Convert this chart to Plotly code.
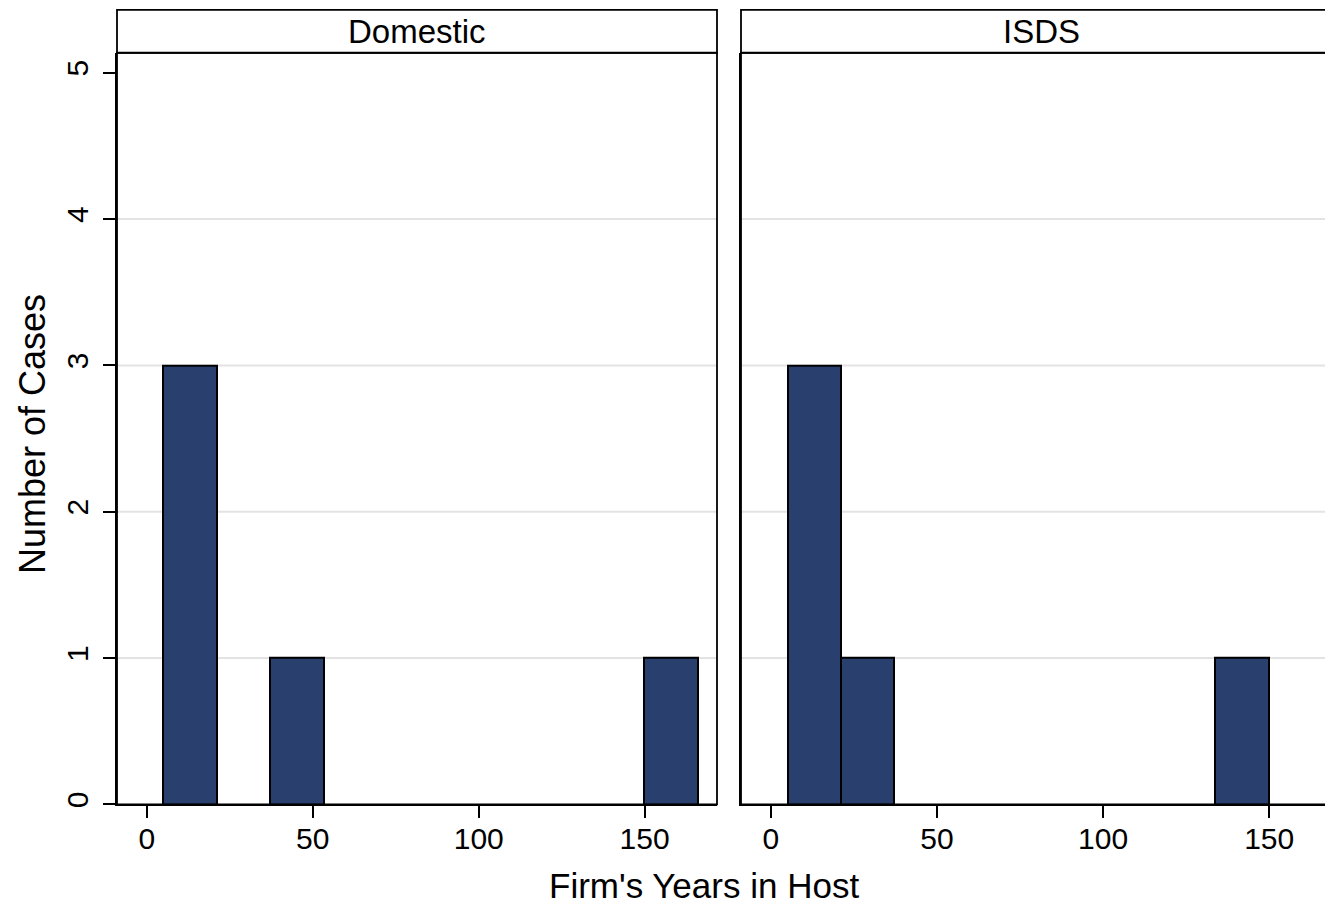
import plotly.graph_objects as go

# Histogram of firm tenure by dispute venue (shared bins of width 16.1 starting at 5)
panels = ["Domestic", "ISDS"]
bin_start = 5.0
bin_width = 16.1
domestic_bins = [0, 2, 9]
domestic_counts = [3, 1, 1]
isds_bins = [0, 1, 8]
isds_counts = [3, 1, 1]

x_ticks = [0, 50, 100, 150]
y_ticks = [0, 1, 2, 3, 4, 5]
grid_levels = [1, 2, 3, 4]

BAR_COLOR = "#293f6d"
FONT = "Liberation Sans, Arial, Helvetica, sans-serif"

W, H = 1325, 911


def px_x(p):
    return p / W


def px_y(p):
    return (H - p) / H


# panel frames in pixels: (left, right)
frames = [(117, 717), (741, 1341)]
plot_top, plot_bottom, strip_top = 53, 808, 10

fig = go.Figure()

series = [(domestic_bins, domestic_counts, "x", "y"),
          (isds_bins, isds_counts, "x2", "y2")]
for bins, counts, xa, ya in series:
    centers = [bin_start + (b + 0.5) * bin_width for b in bins]
    fig.add_trace(go.Bar(
        x=centers, y=counts, width=[bin_width] * len(bins),
        xaxis=xa, yaxis=ya,
        marker=dict(color=BAR_COLOR, line=dict(color="black", width=2)),
        showlegend=False, hoverinfo="skip",
    ))

y_dom = [px_y(plot_bottom), px_y(plot_top)]
axis_common = dict(
    showgrid=False, zeroline=False, showline=True, linecolor="black", linewidth=1.8,
    ticks="outside", ticklen=12, tickwidth=1.5, tickcolor="black",
    tickfont=dict(family=FONT, size=30, color="black"),
)

fig.update_layout(
    width=W, height=H, autosize=False,
    margin=dict(l=0, r=0, t=0, b=0),
    paper_bgcolor="white", plot_bgcolor="white",
    bargap=0,
    xaxis=dict(domain=[px_x(frames[0][0]), px_x(frames[0][1])], range=[-9.0, 171.8],
               tickvals=x_ticks, anchor="y", ticklabelstandoff=-5, **axis_common),
    xaxis2=dict(domain=[px_x(frames[1][0]), 1.0], range=[-9.0, 166.8],
                tickvals=x_ticks, anchor="y2", ticklabelstandoff=-5, **axis_common),
    yaxis=dict(domain=y_dom, range=[0, 5.136], tickvals=y_ticks,
               tickangle=-90, anchor="x", ticklabelstandoff=3, **axis_common),
    yaxis2=dict(domain=y_dom, range=[0, 5.136], tickvals=y_ticks, showticklabels=False,
                anchor="x2", **{**axis_common, "ticks": ""}),
)

shapes = []
# horizontal grid lines
for xr, yr in [("x domain", "y"), ("x2 domain", "y2")]:
    for g in grid_levels:
        shapes.append(dict(type="line", xref=xr, yref=yr, x0=0, x1=1, y0=g, y1=g,
                           line=dict(color="#e3e3e3", width=2), layer="below"))

# panel and strip borders
for left, right in frames:
    x0, x1 = px_x(left), px_x(right)
    shapes.append(dict(type="rect", xref="paper", yref="paper",
                       x0=x0, x1=x1, y0=px_y(plot_bottom), y1=px_y(plot_top),
                       line=dict(color="black", width=1.8), layer="above"))
    shapes.append(dict(type="rect", xref="paper", yref="paper",
                       x0=x0, x1=x1, y0=px_y(plot_top), y1=px_y(strip_top),
                       line=dict(color="black", width=1.8), fillcolor="white", layer="above"))
fig.update_layout(shapes=shapes)

annotations = []
for (left, right), name in zip(frames, panels):
    annotations.append(dict(text=name, xref="paper", yref="paper",
                            x=px_x((left + right) / 2), y=px_y((plot_top + strip_top) / 2),
                            xanchor="center", yanchor="middle", showarrow=False,
                            font=dict(family=FONT, size=33, color="black")))
annotations.append(dict(text="Firm's Years in Host", xref="paper", yref="paper",
                        x=px_x(703.5), y=px_y(889), xanchor="center", yanchor="middle",
                        showarrow=False, font=dict(family=FONT, size=35, color="black")))
annotations.append(dict(text="Number of Cases", xref="paper", yref="paper",
                        x=px_x(32), y=px_y(436), xanchor="center", yanchor="middle",
                        textangle=-90, showarrow=False,
                        font=dict(family=FONT, size=36, color="black")))
fig.update_layout(annotations=annotations)

fig.write_html("out.html")
